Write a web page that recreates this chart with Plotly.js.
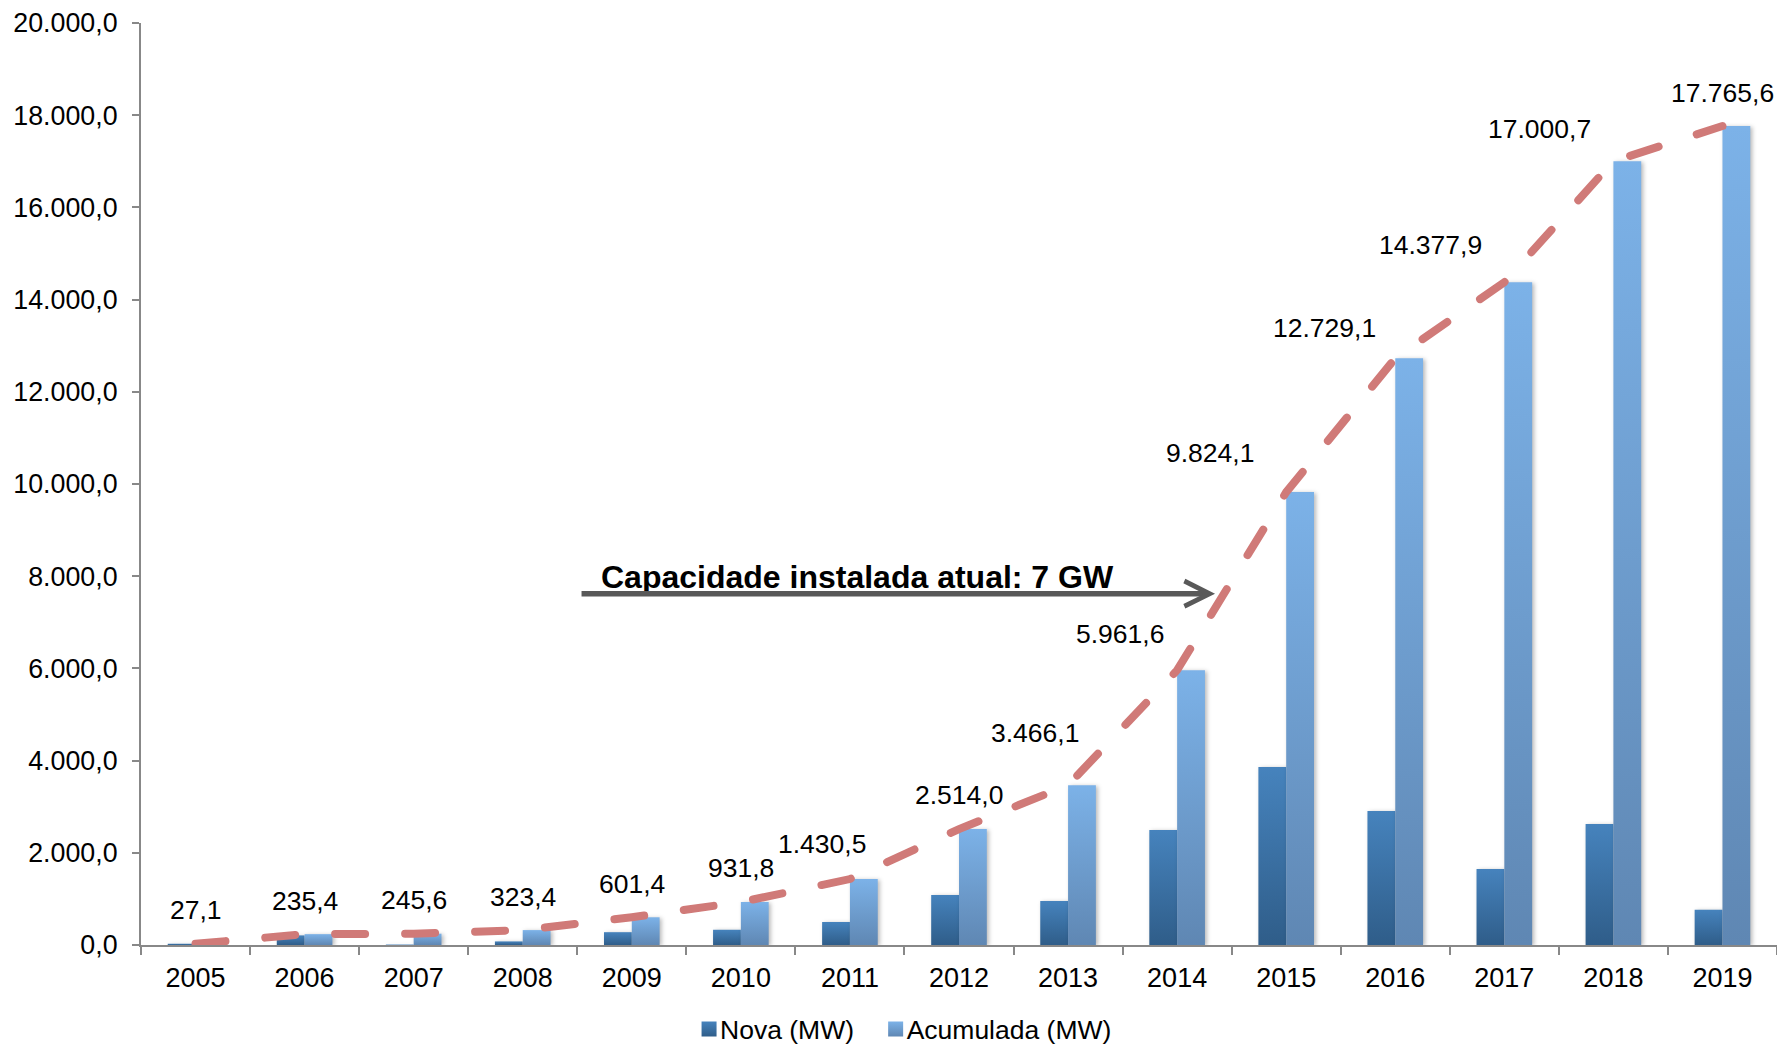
<!DOCTYPE html>
<html>
<head>
<meta charset="utf-8">
<script src="https://cdn.plot.ly/plotly-3.0.1.min.js"></script>
<style>
  html, body { margin: 0; padding: 0; background: #ffffff; }
  #chart { width: 1777px; height: 1045px; }
  .scatterlayer .js-line { stroke-linecap: round !important; }
</style>
</head>
<body>
<svg width="0" height="0" style="position:absolute;left:0;top:0">
  <defs>
    <linearGradient id="gNova" x1="0" y1="0" x2="0" y2="1">
      <stop offset="0" stop-color="#4683bd"/>
      <stop offset="1" stop-color="#2f5d89"/>
    </linearGradient>
    <linearGradient id="gAcum" x1="0" y1="0" x2="0" y2="1">
      <stop offset="0" stop-color="#7cb2e8"/>
      <stop offset="1" stop-color="#5f87b3"/>
    </linearGradient>
  </defs>
</svg>
<div id="chart"></div>
<script>
// ---- data ----
const years = ['2005','2006','2007','2008','2009','2010','2011','2012','2013','2014','2015','2016','2017','2018','2019'];
const novaMW = [27.1, 208.3, 10.2, 77.8, 278.0, 330.4, 498.7, 1083.5, 952.1, 2495.5, 3862.5, 2905.0, 1648.8, 2622.8, 764.9];
const acumuladaMW = [27.1, 235.4, 245.6, 323.4, 601.4, 931.8, 1430.5, 2514.0, 3466.1, 5961.6, 9824.1, 12729.1, 14377.9, 17000.7, 17765.6];
const seriesNames = ['Nova (MW)', 'Acumulada (MW)'];
const noteText = 'Capacidade instalada atual: 7 GW';

// ---- label placement (style, not data) ----
const labelShiftX = [0, 0, 0, 0, 0, 0, -28, 0, -33, -57, -76, -71, -74, -74, 0];
const labelShiftY = [34, 33, 34, 33, 33, 34, 35, 34, 52, 36, 39, 30, 37, 32, 33];

function fmt(v) {
  const parts = v.toFixed(1).split('.');
  return parts[0].replace(/\B(?=(\d{3})+(?!\d))/g, '.') + ',' + parts[1];
}

const FONT = '"Liberation Sans", Arial, sans-serif';

const traces = [
  {
    type: 'bar', name: seriesNames[0], x: years, y: novaMW, legend: 'legend',
    marker: { color: '#3b6e9f' }, hoverinfo: 'x+y'
  },
  {
    type: 'bar', name: seriesNames[1], x: years, y: acumuladaMW, legend: 'legend2',
    marker: { color: '#6d9bd0' }, hoverinfo: 'x+y'
  },
  {
    type: 'scatter', mode: 'lines', x: years, y: acumuladaMW, showlegend: false,
    line: { color: '#d07a78', width: 8, dash: '30px,40px' }, hoverinfo: 'skip', cliponaxis: false
  }
];

// category index positions for the value labels
const annotations = years.map((yr, i) => ({
  x: i, y: acumuladaMW[i], xref: 'x', yref: 'y',
  text: fmt(acumuladaMW[i]), showarrow: false,
  xanchor: 'center', yanchor: 'middle',
  xshift: labelShiftX[i], yshift: labelShiftY[i],
  font: { family: FONT, size: 26.5, color: '#000000' }
}));

annotations.push({
  xref: 'paper', yref: 'paper', x: 0.438, y: 0.399,
  text: '<b>' + noteText + '</b>', showarrow: false,
  xanchor: 'center', yanchor: 'middle',
  font: { family: FONT, size: 32, color: '#000000' }
});
annotations.push({
  xref: 'paper', yref: 'paper', x: 0.6565, y: 0.381,
  text: '', showarrow: true, axref: 'pixel', ayref: 'pixel', ax: -635, ay: 0,
  arrowhead: 5, arrowsize: 0.9, arrowwidth: 5.5, arrowcolor: '#595959'
});

const legendBase = {
  orientation: 'h', xref: 'container', yref: 'container',
  xanchor: 'left', y: 0.015, yanchor: 'middle',
  font: { family: FONT, size: 26.5, color: '#000000' },
  itemwidth: 30, bgcolor: 'rgba(0,0,0,0)'
};

const layout = {
  width: 1777, height: 1045,
  margin: { l: 141, r: 0, t: 23, b: 100, pad: 0 },
  paper_bgcolor: '#ffffff', plot_bgcolor: '#ffffff',
  separators: ',.',
  font: { family: FONT, size: 26, color: '#000000' },
  barmode: 'group', bargap: 0.49, bargroupgap: 0,
  showlegend: true,
  legend: Object.assign({}, legendBase, { x: 0.3827 }),
  legend2: Object.assign({}, legendBase, { x: 0.4877 }),
  xaxis: {
    type: 'category', range: [-0.5, 14.5], autorange: false,
    showline: true, linecolor: '#888888', linewidth: 2,
    ticks: 'outside', tickson: 'boundaries', ticklen: 8, tickcolor: '#888888', tickwidth: 2,
    showgrid: false, zeroline: false, ticklabelstandoff: 8, tickangle: 0,
    tickfont: { family: FONT, size: 27, color: '#000000' }
  },
  yaxis: {
    range: [0, 20000], autorange: false, dtick: 2000, tick0: 0, tickformat: ',.1f',
    showline: true, linecolor: '#888888', linewidth: 2,
    ticks: 'outside', ticklen: 7, tickcolor: '#888888', tickwidth: 2,
    showgrid: false, zeroline: false, ticklabelstandoff: 9,
    tickfont: { family: FONT, size: 26.8, color: '#000000' }
  },
  annotations: annotations
};

const grads = ['url(#gNova)', 'url(#gAcum)'];
function restyleMarks(gd) {
  gd.querySelectorAll('.barlayer .trace').forEach((t, i) => {
    t.querySelectorAll('path').forEach(p => {
      p.style.fill = grads[i];
      p.style.filter = 'drop-shadow(2px 1px 2px rgba(0,0,0,0.28))';
    });
  });
  gd.querySelectorAll('.legendpoints path').forEach((p, i) => {
    if (i > 1 || p.dataset.done) return;
    p.dataset.done = '1';
    p.style.fill = grads[i];
    p.setAttribute('d', 'M7.5,7.5H-7.5V-7.5H7.5Z');
    const old = p.getAttribute('transform') || '';
    p.setAttribute('transform', (old + ' translate(9,0)').trim());
  });
}

Plotly.newPlot('chart', traces, layout, { displayModeBar: false, staticPlot: true }).then(gd => {
  restyleMarks(gd);
  setTimeout(() => restyleMarks(gd), 50);
});
</script>
</body>
</html>
